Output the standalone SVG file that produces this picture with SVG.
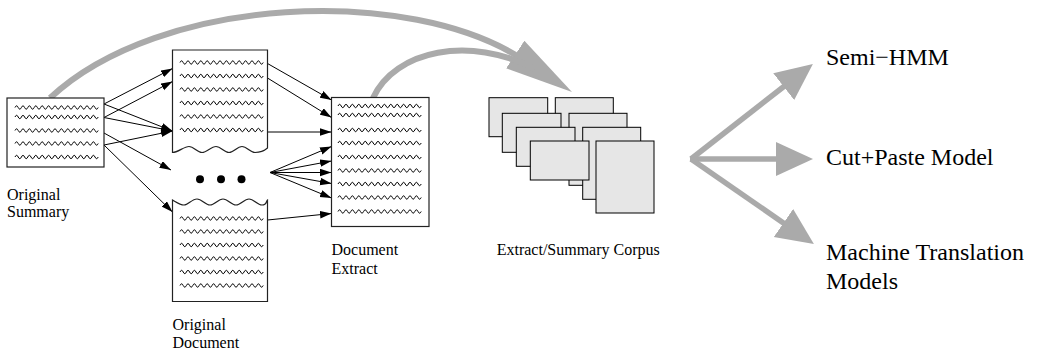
<svg xmlns="http://www.w3.org/2000/svg" xmlns:xlink="http://www.w3.org/1999/xlink" width="1044" height="356" viewBox="0 0 1044 356">
<style>
.box{fill:#fff;stroke:#222;stroke-width:1.2}
.wave{fill:none;stroke:#000;stroke-width:1}
.lbl{font-family:"Liberation Serif","Times New Roman",serif;font-size:16px;fill:#000}
.big{font-family:"Liberation Serif","Times New Roman",serif;font-size:24px}
.arr{stroke:#000;stroke-width:1;fill:none;marker-end:url(#ah)}
.gray{stroke:#aaa;stroke-width:6;fill:none}
.gfan{stroke:#aaa;stroke-width:5.5;fill:none;marker-end:url(#gh)}
.sheet{fill:#e6e6e6;stroke:#000;stroke-width:1}
.dot{fill:#000}
</style>
<defs>
<marker id="ah" markerUnits="userSpaceOnUse" markerWidth="12" markerHeight="8" refX="11.5" refY="3.75" orient="auto"><path d="M0,0 L11.5,3.75 L0,7.5 z" fill="#000"/></marker>
<marker id="gh" markerUnits="userSpaceOnUse" markerWidth="38" markerHeight="35" refX="10" refY="17" orient="auto"><path d="M0,0 L37,17 L0,34 z" fill="#aaa"/></marker>
<marker id="bh" markerUnits="userSpaceOnUse" markerWidth="69" markerHeight="35" refX="10" refY="16.5" orient="auto"><path d="M0,0 L68,16.5 L0,33 z" fill="#aaa"/></marker>
<path id="wv" d="M0 0 q1.6 -3.4 3.2 0 t3.2 0 t3.2 0 t3.2 0 t3.2 0 t3.2 0 t3.2 0 t3.2 0 t3.2 0 t3.2 0 t3.2 0 t3.2 0 t3.2 0 t3.2 0 t3.2 0 t3.2 0 t3.2 0 t3.2 0 t3.2 0 t3.2 0 t3.2 0 t3.2 0 t3.2 0 t3.2 0 t3.2 0 t3.2 0" class="wave"/>
</defs>

<g id="connectors">
  <path class="gray" d="M50 98 C160 -5, 410 -15, 523.6 60" marker-end="url(#bh)"/>
  <path class="gray" d="M373 98 C395 50, 470 35, 535 69"/>
  <line class="arr" x1="104" y1="104" x2="172.5" y2="68.5"/>
  <line class="arr" x1="104" y1="117.5" x2="172.5" y2="81.5"/>
  <line class="arr" x1="104" y1="104" x2="172.5" y2="131"/>
  <line class="arr" x1="104" y1="117.5" x2="172.5" y2="131"/>
  <line class="arr" x1="104" y1="145" x2="172.5" y2="131"/>
  <line class="arr" x1="104" y1="133" x2="171" y2="170"/>
  <line class="arr" x1="104" y1="145" x2="172.5" y2="212"/>
  <line class="arr" x1="267.5" y1="63.5" x2="331.5" y2="100"/>
  <line class="arr" x1="267.5" y1="78" x2="331.5" y2="117.5"/>
  <line class="arr" x1="267.5" y1="132" x2="331.5" y2="132"/>
  <line class="arr" x1="270" y1="172.5" x2="331.5" y2="146.5"/>
  <line class="arr" x1="270" y1="172.5" x2="331.5" y2="161"/>
  <line class="arr" x1="270" y1="172.5" x2="331.5" y2="172.5"/>
  <line class="arr" x1="270" y1="172.5" x2="331.5" y2="183.5"/>
  <line class="arr" x1="270" y1="172.5" x2="331.5" y2="198"/>
  <line class="arr" x1="267.5" y1="220" x2="331.5" y2="213.5"/>
  <line class="gfan" x1="691" y1="159" x2="791.6" y2="80.5"/>
  <line class="gfan" x1="690" y1="159" x2="786" y2="159"/>
  <line class="gfan" x1="691" y1="159" x2="791.7" y2="228.7"/>
</g>

<g id="original-summary">
  <rect class="box" x="7" y="98" width="97" height="69"/>
  <use href="#wv" x="15" y="107.5"/>
  <use href="#wv" x="15" y="117"/>
  <use href="#wv" x="15" y="130.5"/>
  <use href="#wv" x="15" y="143.5"/>
  <use href="#wv" x="15" y="157"/>
  <text class="lbl" x="7" y="200">Original</text>
  <text class="lbl" x="7" y="217">Summary</text>
</g>

<g id="original-document-top">
  <path class="box" d="M172.5 152.5 L172.5 50 L267.5 50 L267.5 148 C264 151, 260 152.5, 255 152.5 S247 146.5, 242 146.5 S234 152.5, 229 152.5 S221 146.5, 216 146.5 S207 152.5, 202 152.5 S194 146.5, 189 146.5 S178 152.5, 172.5 152.5 Z"/>
  <use href="#wv" x="180" y="62.5"/>
  <use href="#wv" x="180" y="76"/>
  <use href="#wv" x="180" y="89.5"/>
  <use href="#wv" x="180" y="103"/>
  <use href="#wv" x="180" y="116.5"/>
  <use href="#wv" x="180" y="130"/>
</g>

<g id="ellipsis">
  <circle class="dot" cx="200" cy="179.3" r="4"/>
  <circle class="dot" cx="221" cy="179.3" r="4"/>
  <circle class="dot" cx="241.5" cy="179.3" r="4"/>
</g>

<g id="original-document-bottom">
  <path class="box" d="M172.5 301.5 L172.5 200 C176 202, 180 205, 184 205 S192 199, 197 199 S205 205, 210 205 S218 199, 223 199 S231 205, 236 205 S244 199, 249 199 S257 205, 262 205 S266 201, 267.5 200 L267.5 301.5 Z"/>
  <use href="#wv" x="180" y="218.5"/>
  <use href="#wv" x="180" y="231.5"/>
  <use href="#wv" x="180" y="245"/>
  <use href="#wv" x="180" y="258.5"/>
  <use href="#wv" x="180" y="272"/>
  <use href="#wv" x="180" y="285.5"/>
  <text class="lbl" x="172.5" y="330">Original</text>
  <text class="lbl" x="172.5" y="348">Document</text>
</g>

<g id="document-extract">
  <rect class="box" x="331.5" y="97.5" width="97.5" height="129"/>
  <use href="#wv" x="338" y="106"/>
  <use href="#wv" x="338" y="115"/>
  <use href="#wv" x="338" y="130"/>
  <use href="#wv" x="338" y="143"/>
  <use href="#wv" x="338" y="157"/>
  <use href="#wv" x="338" y="170.5"/>
  <use href="#wv" x="338" y="184"/>
  <use href="#wv" x="338" y="197.5"/>
  <use href="#wv" x="338" y="211.5"/>
  <text class="lbl" x="331.5" y="255">Document</text>
  <text class="lbl" x="331.5" y="274">Extract</text>
</g>

<g id="corpus">
  <rect class="sheet" x="489" y="97.7" width="58.7" height="39"/>
  <rect class="sheet" x="555.3" y="97.7" width="58" height="72"/>
  <rect class="sheet" x="502.3" y="113.3" width="58.7" height="39"/>
  <rect class="sheet" x="569" y="113.3" width="58" height="72"/>
  <rect class="sheet" x="516.3" y="127.3" width="58.7" height="39"/>
  <rect class="sheet" x="582.7" y="127.3" width="58" height="72"/>
  <rect class="sheet" x="530.3" y="141" width="58.7" height="39"/>
  <rect class="sheet" x="596" y="141" width="58" height="72"/>
  <text class="lbl" x="496.7" y="255">Extract/Summary Corpus</text>
</g>

<g id="semi-hmm">
  <text class="lbl big" x="826" y="65">Semi−HMM</text>
</g>
<g id="cut-paste">
  <text class="lbl big" x="826" y="165">Cut+Paste Model</text>
</g>
<g id="mt-models">
  <text class="lbl big" x="826" y="260">Machine Translation</text>
  <text class="lbl big" x="826" y="289">Models</text>
</g>
</svg>
